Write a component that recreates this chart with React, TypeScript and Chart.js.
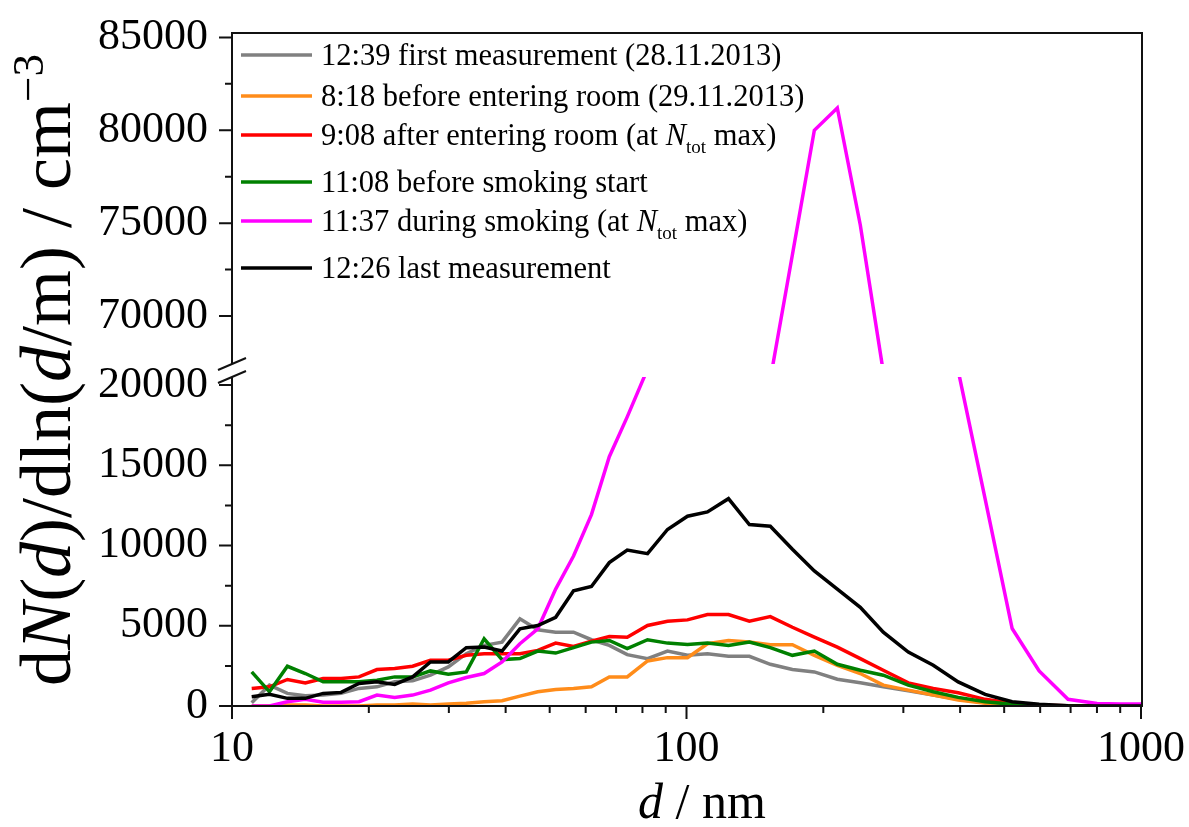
import React, { useEffect, useRef } from 'react';
import { Chart, registerables } from 'chart.js';

Chart.register(...registerables);

const FONT = "'Liberation Serif', 'Times New Roman', Times, serif";

// particle diameter d / nm (bin centres)
const diameters = [
  11.05, 12.09, 13.24, 14.5, 15.87, 17.38, 19.03, 20.84, 22.8, 24.97, 27.33,
  29.92, 32.77, 35.87, 39.28, 43.0, 47.07, 51.54, 56.42, 61.78, 67.63, 74.06,
  82.09, 90.82, 100.5, 111.2, 123.7, 137.5, 152.9, 171.0, 191.1, 214.7, 241.2,
  271.0, 307.6, 349.1, 396.1, 454.1, 520.6, 596.9, 691.0, 800.4, 899.0, 1000,
];

const firstMeasurement = [
  204, 1300, 786, 638, 681, 786, 1096, 1195, 1505, 1567, 1920, 2433, 3263, 3777,
  3982, 5430, 4749, 4601, 4601, 4130, 3777, 3200, 2954, 3424, 3158, 3263, 3096,
  3096, 2600, 2273, 2124, 1672, 1443, 1195, 947, 681, 415, 204, 100, 40, 10, 0, 0, 0,
];
const beforeEntering = [
  0, 0, 62, 62, 0, 0, 0, 62, 62, 124, 62, 124, 167, 266, 328, 619, 885, 1034,
  1096, 1195, 1814, 1814, 2805, 3015, 3015, 3882, 4087, 3982, 3820, 3820, 3158,
  2539, 2025, 1300, 991, 681, 372, 167, 50, 0, 0, 0, 0, 0,
];
const afterEntering = [
  1096, 1195, 1653, 1443, 1715, 1715, 1814, 2273, 2334, 2477, 2848, 2848, 3158,
  3263, 3263, 3263, 3467, 3920, 3715, 4043, 4334, 4291, 5016, 5282, 5368, 5697,
  5697, 5282, 5573, 4910, 4291, 3672, 2954, 2229, 1443, 1096, 824, 415, 167, 50,
  10, 0, 0, 0,
];
const beforeSmoking = [
  2124, 885, 2477, 2025, 1505, 1505, 1505, 1610, 1814, 1814, 2186, 1981, 2124,
  4192, 2892, 2954, 3424, 3300, 3635, 3982, 4087, 3573, 4130, 3920, 3839, 3920,
  3777, 3982, 3635, 3158, 3424, 2601, 2229, 1920, 1300, 885, 538, 266, 105, 30,
  0, 0, 0, 0,
];
const duringSmoking = [
  0, 0, 266, 415, 230, 230, 266, 681, 538, 681, 991, 1443, 1777, 2025, 2743,
  3882, 4811, 7288, 9350, 11930, 15540, 18020, 21000, 28000, 34500, 41500,
  49500, 58000, 66600, 73300, 80000, 81200, 74900, 67000, 52000, 36000, 20900,
  12900, 4830, 2186, 415, 150, 120, 120,
];
const lastMeasurement = [
  576, 724, 477, 477, 786, 848, 1405, 1505, 1344, 1814, 2743, 2743, 3635, 3672,
  3424, 4811, 5016, 5530, 7183, 7450, 8935, 9721, 9492, 11003, 11827, 12093,
  12923, 11313, 11208, 9765, 8421, 7288, 6148, 4601, 3362, 2539, 1505, 724, 266,
  105, 19, 0, 0, 0,
];

const lowerTicks = [0, 5000, 10000, 15000, 20000];
const upperTicks = [70000, 75000, 80000, 85000];
const xTicks = [10, 100, 1000];

type Seg = { t: string; it?: boolean; sub?: boolean; sup?: boolean };

const legendRows: { color: string; y: number; segs: Seg[] }[] = [
  { color: '#808080', y: 55, segs: [{ t: '12:39 first measurement (28.11.2013)' }] },
  { color: '#ff8c1a', y: 96, segs: [{ t: '8:18 before entering room (29.11.2013)' }] },
  {
    color: '#ff0000', y: 135,
    segs: [{ t: '9:08 after entering room (at ' }, { t: 'N', it: true }, { t: 'tot', sub: true }, { t: ' max)' }],
  },
  { color: '#008000', y: 182, segs: [{ t: '11:08 before smoking start' }] },
  {
    color: '#ff00ff', y: 221,
    segs: [{ t: '11:37 during smoking (at ' }, { t: 'N', it: true }, { t: 'tot', sub: true }, { t: ' max)' }],
  },
  { color: '#000000', y: 268, segs: [{ t: '12:26 last measurement' }] },
];

const L = 232, R = 1142, T = 33, B = 706, SPLIT = 370.5;
const UP_BOTTOM = 364, LOW_TOP = 377;
const UP_MIN = 85000 - (SPLIT - T) / 0.0187;
const LOW_MAX = (B - SPLIT) / 0.01615;
const LW = 3.5;

function segFont(s: Seg, size: number) {
  const sz = s.sub || s.sup ? Math.round(size * 0.62) : size;
  return `${s.it ? 'italic ' : ''}${sz}px ${FONT}`;
}
function richWidth(ctx: CanvasRenderingContext2D, segs: Seg[], size: number) {
  let w = 0;
  for (const s of segs) {
    ctx.font = segFont(s, size);
    w += ctx.measureText(s.t).width;
  }
  return w;
}
function drawRich(ctx: CanvasRenderingContext2D, segs: Seg[], x: number, y: number, size: number) {
  let cx = x;
  ctx.textBaseline = 'alphabetic';
  ctx.textAlign = 'left';
  for (const s of segs) {
    ctx.font = segFont(s, size);
    const dy = s.sub ? size * 0.25 : s.sup ? -size * 0.38 : 0;
    ctx.fillText(s.t, cx, y + dy);
    cx += ctx.measureText(s.t).width;
  }
}

const pts = (vals: number[]) => diameters.map((d, i) => ({ x: d, y: vals[i] }));

export default function App() {
  const ref = useRef<HTMLCanvasElement | null>(null);
  useEffect(() => {
    if (!ref.current) return;
    const line = (label: string, color: string, vals: number[], yAxisID: string, order: number) => ({
      label, data: pts(vals), borderColor: color, backgroundColor: color, borderWidth: LW,
      pointRadius: 0, tension: 0, fill: false, yAxisID, order,
    });
    const clipPlugin = {
      id: 'segClip',
      beforeDatasetDraw(chart: any, args: any) {
        const ys = args.meta.yScale;
        const ctx = chart.ctx;
        ctx.save();
        ctx.beginPath();
        const top = ys.id === 'yUp' ? T - 2 : LOW_TOP;
        const bottom = ys.id === 'yUp' ? UP_BOTTOM : B + 2;
        ctx.rect(L, top, R - L, bottom - top);
        ctx.clip();
      },
      afterDatasetDraw(chart: any) {
        chart.ctx.restore();
      },
    };
    const decorPlugin = {
      id: 'decor',
      afterDraw(chart: any) {
        const ctx: CanvasRenderingContext2D = chart.ctx;
        const x = chart.scales.x, yl = chart.scales.y, yu = chart.scales.yUp;
        ctx.save();
        ctx.strokeStyle = '#111';
        ctx.lineWidth = 2;
        ctx.lineCap = 'butt';
        ctx.beginPath();
        // frame
        ctx.moveTo(L - 1, T); ctx.lineTo(R + 1, T);
        ctx.moveTo(R, T); ctx.lineTo(R, B + 1);
        ctx.moveTo(L - 1, B); ctx.lineTo(R + 1, B);
        ctx.moveTo(L, T); ctx.lineTo(L, UP_BOTTOM);
        ctx.moveTo(L, LOW_TOP); ctx.lineTo(L, B);
        // y ticks
        for (let v = 0; v <= LOW_MAX; v += 2500) {
          const p = yl.getPixelForValue(v);
          if (p < LOW_TOP + 3) continue;
          const len = v % 5000 === 0 ? 13 : 7;
          ctx.moveTo(L, p); ctx.lineTo(L - len, p);
        }
        for (let v = 67500; v <= 85000; v += 2500) {
          const p = yu.getPixelForValue(v);
          if (p > UP_BOTTOM - 3) continue;
          const len = v % 5000 === 0 ? 13 : 7;
          ctx.moveTo(L, p); ctx.lineTo(L - len, p);
        }
        // x ticks
        for (let dec = 10; dec < 1000; dec *= 10) {
          for (let m = 1; m <= 10; m++) {
            const v = dec * m;
            const p = x.getPixelForValue(v);
            const len = m === 1 || m === 10 ? 13 : 7;
            ctx.moveTo(p, B); ctx.lineTo(p, B + len);
          }
        }
        ctx.stroke();
        // axis break marks
        ctx.beginPath();
        ctx.moveTo(218, 370); ctx.lineTo(246, 358);
        ctx.moveTo(218, 383); ctx.lineTo(246, 371);
        ctx.stroke();

        // legend
        for (const row of legendRows) {
          ctx.strokeStyle = row.color;
          ctx.lineWidth = LW;
          ctx.beginPath();
          ctx.moveTo(241, row.y); ctx.lineTo(312, row.y);
          ctx.stroke();
          ctx.fillStyle = '#000';
          drawRich(ctx, row.segs, 321, row.y + 10, 30.5);
        }

        // axis titles
        ctx.fillStyle = '#000';
        const xt: Seg[] = [{ t: 'd', it: true }, { t: ' / nm' }];
        const xw = richWidth(ctx, xt, 50);
        drawRich(ctx, xt, 702 - xw / 2, 818, 50);

        const yt: Seg[] = [
          { t: 'd' }, { t: 'N', it: true }, { t: '(' }, { t: 'd', it: true }, { t: ')/dln(' },
          { t: 'd', it: true }, { t: '/m) / cm' }, { t: '\u22123', sup: true },
        ];
        const YF = 72;
        const yw = richWidth(ctx, yt, YF);
        ctx.translate(70, 370);
        ctx.rotate(-Math.PI / 2);
        drawRich(ctx, yt, -yw / 2, 0, YF);
        ctx.restore();
      },
    };

    const tickFont = { family: FONT, size: 44 };
    const chart = new Chart(ref.current, {
      type: 'line',
      data: {
        datasets: [
          line('12:39 first measurement (28.11.2013)', '#808080', firstMeasurement, 'y', 6),
          line('8:18 before entering room (29.11.2013)', '#ff8c1a', beforeEntering, 'y', 5),
          line('9:08 after entering room (at Ntot max)', '#ff0000', afterEntering, 'y', 4),
          line('11:08 before smoking start', '#008000', beforeSmoking, 'y', 3),
          line('11:37 during smoking (at Ntot max)', '#ff00ff', duringSmoking, 'y', 2),
          line('11:37 during smoking (upper)', '#ff00ff', duringSmoking, 'yUp', 2),
          line('12:26 last measurement', '#000000', lastMeasurement, 'y', 1),
        ] as any,
      },
      options: {
        animation: false,
        responsive: false,
        maintainAspectRatio: false,
        devicePixelRatio: 1,
        layout: { padding: { top: T, right: 1189 - R, left: 0, bottom: 0 } },
        plugins: { legend: { display: false }, tooltip: { enabled: false }, title: { display: false } },
        scales: {
          x: {
            type: 'logarithmic', position: 'bottom', min: 10, max: 1000,
            afterBuildTicks: (s: any) => { s.ticks = xTicks.map((v) => ({ value: v, major: true })); },
            afterFit: (s: any) => { s.height = 827 - B; },
            ticks: { autoSkip: false, maxRotation: 0, padding: 4, color: '#000', font: tickFont, callback: (v: any) => String(v) },
            grid: { display: true, drawOnChartArea: false, drawTicks: true, tickLength: 13, color: 'rgba(0,0,0,0)' },
            border: { display: false },
          },
          y: {
            type: 'linear', position: 'left', stack: 'ys', stackWeight: B - SPLIT, min: 0, max: LOW_MAX,
            afterBuildTicks: (s: any) => { s.ticks = lowerTicks.map((v) => ({ value: v })); },
            afterFit: (s: any) => { s.width = L; },
            ticks: { autoSkip: false, padding: 11, color: '#000', font: tickFont, callback: (v: any) => String(v) },
            grid: { display: true, drawOnChartArea: false, drawTicks: true, tickLength: 13, color: 'rgba(0,0,0,0)' },
            border: { display: false },
          },
          yUp: {
            type: 'linear', position: 'left', stack: 'ys', stackWeight: SPLIT - T, min: UP_MIN, max: 85000,
            afterBuildTicks: (s: any) => { s.ticks = upperTicks.map((v) => ({ value: v })); },
            afterFit: (s: any) => { s.width = L; },
            ticks: { autoSkip: false, padding: 11, color: '#000', font: tickFont, callback: (v: any) => String(v) },
            grid: { display: true, drawOnChartArea: false, drawTicks: true, tickLength: 13, color: 'rgba(0,0,0,0)' },
            border: { display: false },
          },
        } as any,
      },
      plugins: [clipPlugin, decorPlugin],
    });
    return () => chart.destroy();
  }, []);

  return (
    <div style={{ position: 'absolute', left: 0, top: 0, width: 1189, height: 827, background: '#fff' }}>
      <canvas ref={ref} width={1189} height={827} style={{ display: 'block' }} />
    </div>
  );
}
